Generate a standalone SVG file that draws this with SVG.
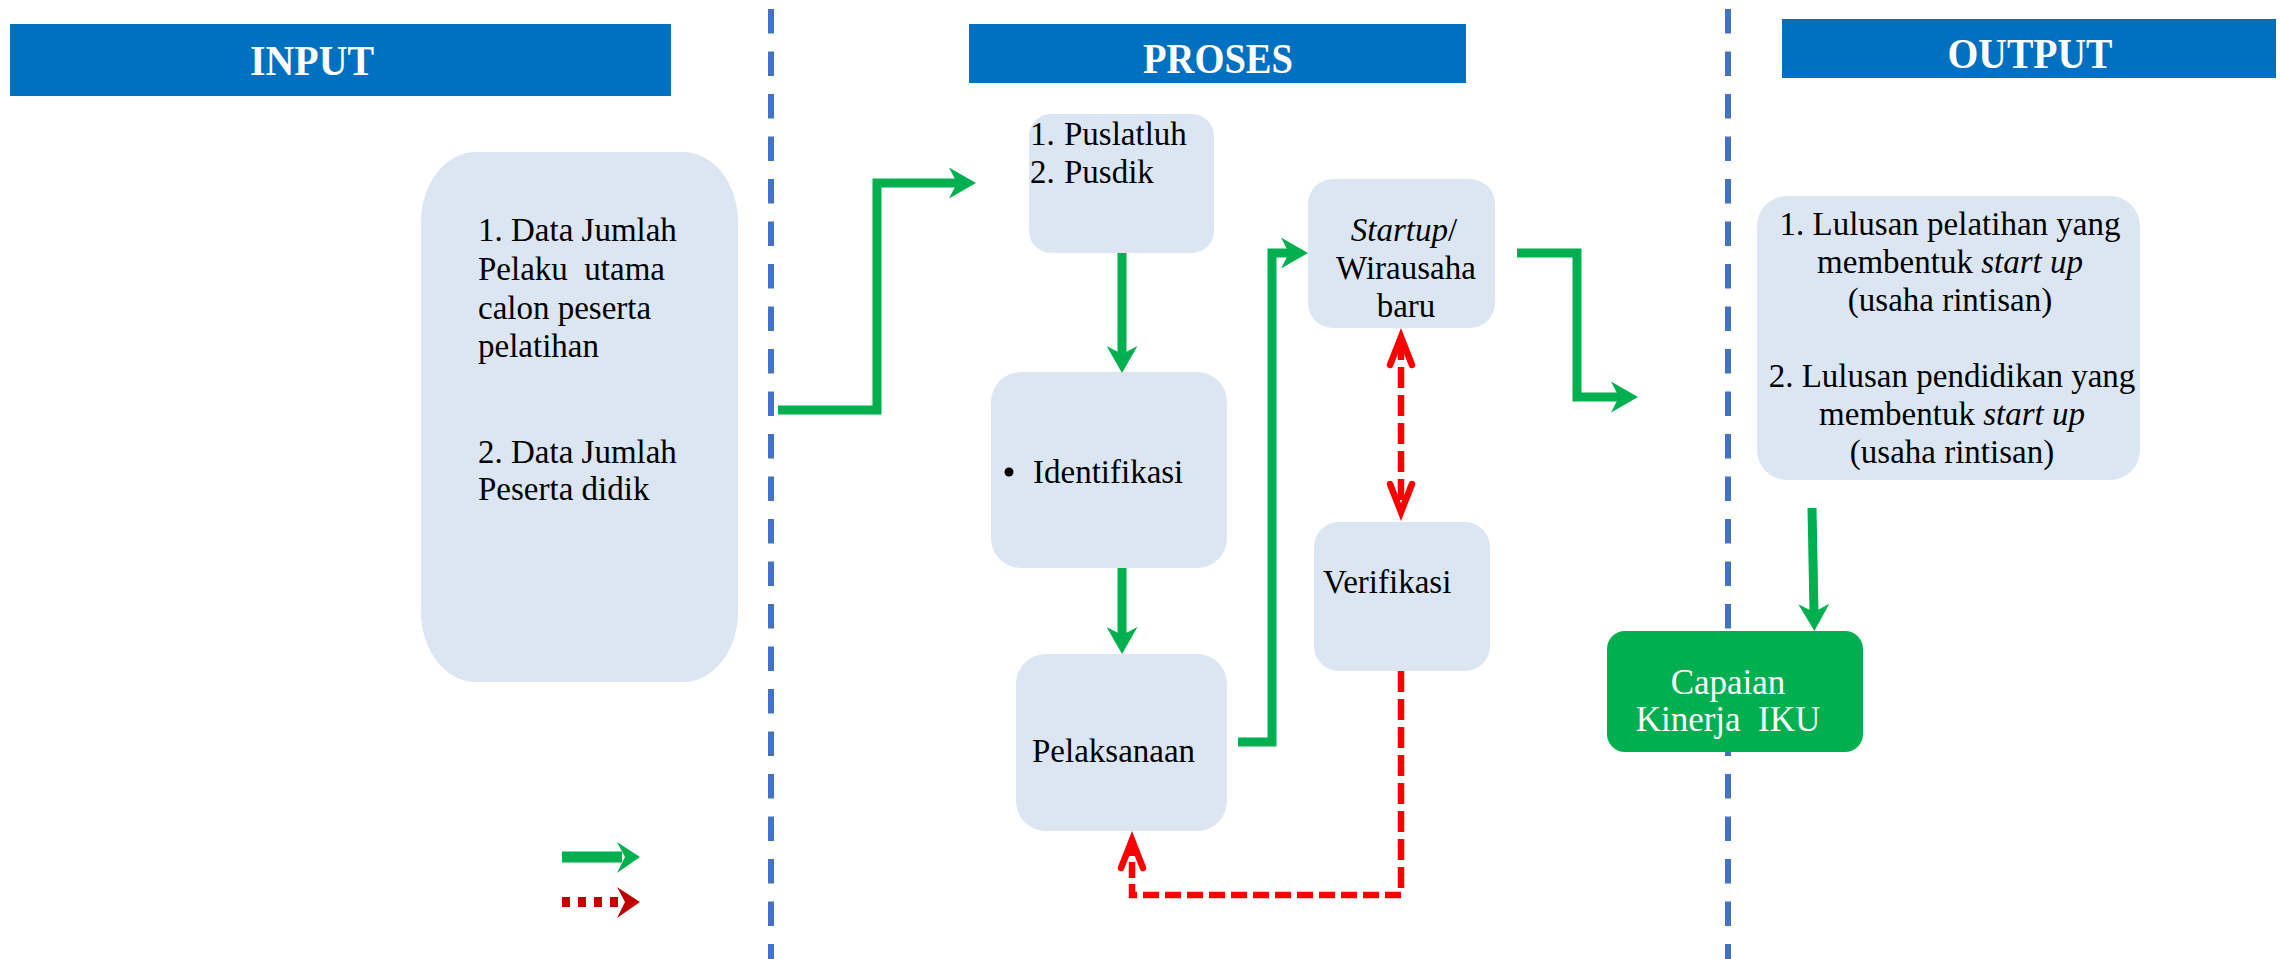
<svg xmlns="http://www.w3.org/2000/svg" width="2280" height="959" viewBox="0 0 2280 959">
  <style>
    .hdr { fill: #0070C0; }
    .hdr-t { font-family: "Liberation Serif", "Times New Roman", serif; font-weight: bold; font-size: 42px; fill: #FFFFFF; }
    .box { fill: #DCE6F2; }
    .t { font-family: "Liberation Serif", "Times New Roman", serif; font-size: 33px; fill: #000000; white-space: pre; }
    .ti { font-style: italic; }
    .cap { font-size: 35px; fill: #FFFFFF; }
    .divider { stroke: #4472C4; stroke-width: 6; stroke-dasharray: 24.5 18; fill: none; }
    .flow { stroke: #00B050; stroke-width: 9; fill: none; stroke-linejoin: miter; marker-end: url(#gHead); }
    .check { stroke: #FF0000; stroke-width: 6.5; fill: none; stroke-linejoin: miter; }
    .check-v { stroke-dasharray: 21 7; }
    .check-h { stroke-dasharray: 16 6; }
  </style>
  <defs>
    <!-- notched arrowhead for the main flow; refX sits on the notch -->
    <marker id="gHead" markerUnits="userSpaceOnUse" viewBox="0 0 27 31" markerWidth="27" markerHeight="31" refX="8" refY="15.5" orient="auto">
      <path d="M0,0 L27,15.5 L0,31 L8,15.5 Z" fill="#00B050"/>
    </marker>
    <!-- open V arrowhead for the verification loop -->
    <marker id="rHead" markerUnits="userSpaceOnUse" viewBox="-8 -8 46 38" markerWidth="46" markerHeight="38" refX="26" refY="11" orient="auto-start-reverse">
      <path d="M0,0 L28,11 L0,22" fill="none" stroke="#FF0000" stroke-width="6.5" stroke-linecap="round" stroke-linejoin="miter"/>
    </marker>
  </defs>

  <rect width="2280" height="959" fill="#FFFFFF"/>

  <!-- column separators -->
  <g id="dividers">
    <line class="divider" x1="771" y1="9" x2="771" y2="959"/>
    <line class="divider" x1="1728" y1="9" x2="1728" y2="959"/>
  </g>

  <!-- column headers -->
  <g id="header-input">
    <rect class="hdr" x="10" y="24" width="661" height="72"/>
    <text class="hdr-t" x="312" y="75" text-anchor="middle" textLength="124" lengthAdjust="spacingAndGlyphs">INPUT</text>
  </g>
  <g id="header-proses">
    <rect class="hdr" x="969" y="24" width="497" height="59"/>
    <text class="hdr-t" x="1218" y="73" text-anchor="middle" textLength="150" lengthAdjust="spacingAndGlyphs">PROSES</text>
  </g>
  <g id="header-output">
    <rect class="hdr" x="1782" y="19" width="494" height="59"/>
    <text class="hdr-t" x="2030" y="68" text-anchor="middle" textLength="165" lengthAdjust="spacingAndGlyphs">OUTPUT</text>
  </g>

  <!-- input data -->
  <g id="node-input">
    <rect class="box" x="421" y="152" width="317" height="530" rx="55" ry="70"/>
    <text class="t" x="478" y="241">1. Data Jumlah</text>
    <text class="t" x="478" y="280">Pelaku  utama</text>
    <text class="t" x="478" y="319">calon peserta</text>
    <text class="t" x="478" y="357">pelatihan</text>
    <text class="t" x="478" y="463">2. Data Jumlah</text>
    <text class="t" x="478" y="500">Peserta didik</text>
  </g>

  <!-- process -->
  <g id="node-unit">
    <rect class="box" x="1029" y="114" width="185" height="139" rx="22"/>
    <text class="t" x="1030" y="145">1.</text>
    <text class="t" x="1064" y="145">Puslatluh</text>
    <text class="t" x="1030" y="183">2.</text>
    <text class="t" x="1064" y="183">Pusdik</text>
  </g>
  <g id="node-identifikasi">
    <rect class="box" x="991" y="372" width="236" height="196" rx="30"/>
    <circle cx="1009" cy="472" r="4.5" fill="#000000"/>
    <text class="t" x="1033" y="483">Identifikasi</text>
  </g>
  <g id="node-pelaksanaan">
    <rect class="box" x="1016" y="654" width="211" height="177" rx="30"/>
    <text class="t" x="1032" y="762">Pelaksanaan</text>
  </g>
  <g id="node-startup">
    <rect class="box" x="1308" y="179" width="187" height="149" rx="25"/>
    <text class="t" x="1404" y="241" text-anchor="middle"><tspan class="ti">Startup</tspan>/</text>
    <text class="t" x="1406" y="279" text-anchor="middle">Wirausaha</text>
    <text class="t" x="1406" y="317" text-anchor="middle">baru</text>
  </g>
  <g id="node-verifikasi">
    <rect class="box" x="1314" y="522" width="176" height="149" rx="25"/>
    <text class="t" x="1323" y="593">Verifikasi</text>
  </g>

  <!-- output -->
  <g id="node-output">
    <rect class="box" x="1757" y="196" width="383" height="284" rx="30"/>
    <text class="t" x="1950" y="235" text-anchor="middle">1. Lulusan pelatihan yang</text>
    <text class="t" x="1950" y="273" text-anchor="middle">membentuk <tspan class="ti">start up</tspan></text>
    <text class="t" x="1950" y="311" text-anchor="middle">(usaha rintisan)</text>
    <text class="t" x="1952" y="387" text-anchor="middle">2. Lulusan pendidikan yang</text>
    <text class="t" x="1952" y="425" text-anchor="middle">membentuk <tspan class="ti">start up</tspan></text>
    <text class="t" x="1952" y="463" text-anchor="middle">(usaha rintisan)</text>
  </g>
  <g id="node-capaian">
    <rect x="1607" y="631" width="256" height="121" rx="18" fill="#00B050"/>
    <text class="t cap" x="1728" y="694" text-anchor="middle">Capaian</text>
    <text class="t cap" x="1728" y="731" text-anchor="middle">Kinerja  IKU</text>
  </g>

  <!-- connectors -->
  <g id="connectors">
    <path class="flow" d="M778,410 H877 V183 H957"/>
    <path class="flow" d="M1122,253 V354"/>
    <path class="flow" d="M1122,568 V635"/>
    <path class="flow" d="M1238,742 H1272 V253 H1289"/>
    <path class="flow" d="M1517,253 H1577 V397 H1619"/>
    <path class="flow" d="M1812,508 L1814,612"/>
    <path class="check check-v" d="M1401,339 V510" marker-start="url(#rHead)" marker-end="url(#rHead)"/>
    <path class="check check-v" d="M1401,671 V895"/>
    <path class="check check-h" d="M1401,895 H1132 V842" marker-end="url(#rHead)"/>
  </g>

  <!-- legend -->
  <g id="legend">
    <line x1="562" y1="857" x2="622" y2="857" stroke="#00B050" stroke-width="11"/>
    <polygon points="617,842 640,857 617,873 625,857" fill="#00B050"/>
    <g fill="#C00000">
      <rect x="562" y="897" width="8" height="10"/>
      <rect x="578" y="897" width="8" height="10"/>
      <rect x="594" y="897" width="8" height="10"/>
      <rect x="610" y="897" width="8" height="10"/>
      <polygon points="617,887 640,902 617,918 625,902"/>
    </g>
  </g>
</svg>
